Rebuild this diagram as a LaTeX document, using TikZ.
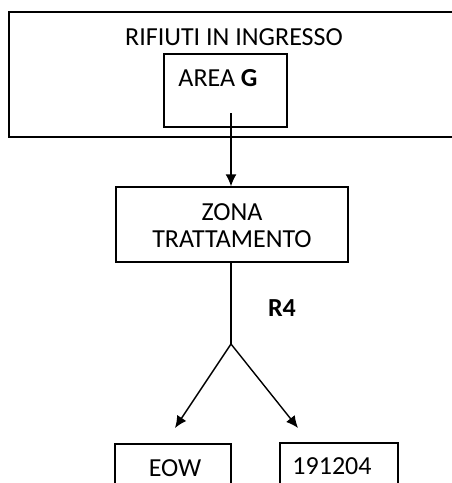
\documentclass[tikz,border=0pt]{standalone}
\usepackage{fontspec}
\setmainfont{Carlito}
\usetikzlibrary{arrows.meta}

\tikzset{
  box/.style={draw,line width=1.4pt,inner sep=0pt},
  label text/.style={inner sep=0pt,align=center,font=\fontsize{26}{27}\selectfont},
  flow/.style={line width=1.4pt,-{Latex[length=12pt,width=11pt]}}
}

\begin{document}
\begin{tikzpicture}[x=1pt,y=-1pt]
  \useasboundingbox (0,0) rectangle (452,483);
  \clip (0,0) rectangle (452,483);

  % Incoming waste area
  \node[box,minimum width=446,minimum height=125] (ingresso) at (232,74.5) {};
  \node[label text] (titolo) at (234,37) {RIFIUTI IN INGRESSO};
  \node[box,minimum width=123,minimum height=73] (areag) at (225.5,90.5) {};
  \node[label text] (areagtxt) at (218,78) {AREA \textbf{G}};

  % Treatment zone
  \node[box,minimum width=232,minimum height=75] (zona) at (232,224.5) {};
  \node[label text] (zonatxt) at (232,225.5) {ZONA\\TRATTAMENTO};

  % Outputs
  \node[box,minimum width=116,minimum height=60] (eow) at (173,474) {};
  \node[label text] (eowtxt) at (175,468) {EOW};
  \node[box,minimum width=118,minimum height=60] (codice) at (339,473) {};
  \node[label text] (codicetxt) at (332,466) {191204};

  % Connectors
  \coordinate (start) at (231,113);
  \coordinate (fork) at (231,344);
  \coordinate (left end) at (175,428);
  \coordinate (right end) at (298,428);
  \draw[flow] (start) -- (start |- zona.north);
  \draw[line width=1.4pt] (fork |- zona.south) -- (fork);
  \draw[flow] (fork) -- (left end);
  \draw[flow] (fork) -- (right end);
  \node[label text,font=\fontsize{26}{27}\selectfont\bfseries] (r4) at (282,308) {R4};

\end{tikzpicture}
\end{document}
